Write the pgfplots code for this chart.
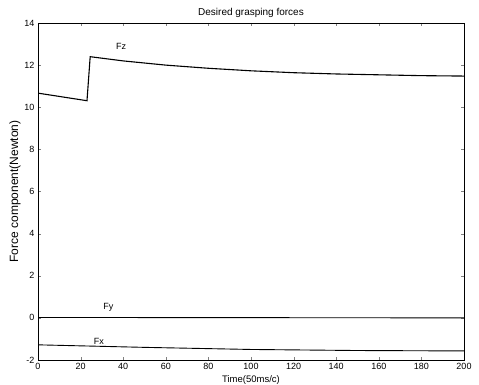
\documentclass[border=0pt]{standalone}
\usepackage{pgfplots}
\pgfplotsset{compat=1.18}
\usepackage{fontspec}
\setmainfont{Liberation Sans}
\begin{document}
\begin{tikzpicture}[x=1pt,y=1pt]
\path[use as bounding box] (0,0) rectangle (479,385);
\begin{axis}[
  at={(38pt,25pt)}, anchor=south west,
  scale only axis, width=426pt, height=337pt,
  xmin=0, xmax=200, ymin=-2, ymax=14,
  xtick={0,20,...,200}, ytick={-2,0,...,14},
  tick align=inside, major tick length=3pt,
  tick label style={font=\fontsize{9}{10}\selectfont},
  /pgf/number format/assume math mode=true,
  title={Desired grasping forces},
  title style={font=\fontsize{10}{11}\selectfont, at={(0.5,1)}, anchor=center, yshift=4pt},
  xlabel={Time(50ms/c)},
  xlabel style={font=\fontsize{9.5}{11}\selectfont, at={(0.5,0)}, anchor=center, yshift=-20pt},
  ylabel={Force component(Newton)},
  ylabel style={font=\fontsize{12}{13}\selectfont, at={(0,0.5)}, anchor=center, yshift=23pt},
  axis line style={line width=0.8pt},
]
\addplot[black, line width=1.1pt] coordinates {
(0,10.67) (23,10.31) (24.5,12.4) (40,12.2) (60,12.0) (80,11.85) (100,11.73)
(120,11.64) (140,11.58) (160,11.54) (180,11.5) (200,11.48)};
\addplot[black, line width=0.9pt] coordinates {(0,0.02) (200,0)};
\addplot[black, line width=0.9pt] coordinates {
(0,-1.28) (50,-1.4) (100,-1.5) (150,-1.55) (200,-1.57)};
\node[font=\fontsize{9}{10}\selectfont] at (axis cs:39,12.9) {Fz};
\node[font=\fontsize{9}{10}\selectfont] at (axis cs:33,0.5) {Fy};
\node[font=\fontsize{9}{10}\selectfont] at (axis cs:28.6,-1.1) {Fx};
\end{axis}
\end{tikzpicture}
\end{document}
